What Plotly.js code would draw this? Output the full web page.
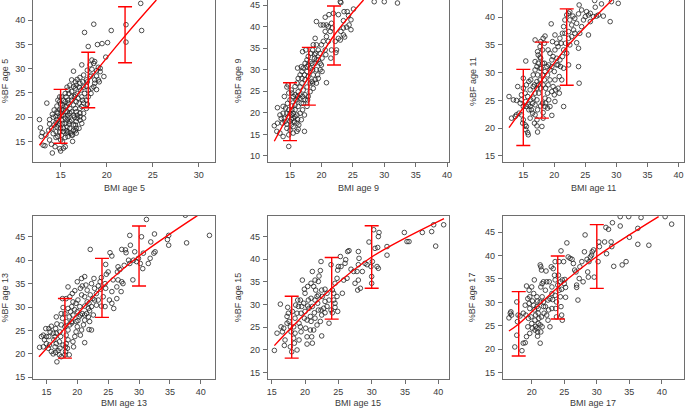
<!DOCTYPE html>
<html>
<head>
<meta charset="utf-8">
<script src="https://cdn.plot.ly/plotly-3.0.1.min.js"></script>
<style>html,body{margin:0;padding:0;background:#fff}#chart{width:685px;height:409px}</style>
</head>
<body>
<div id="chart"></div>
<script>
// ---------------- DATA ----------------
var ages = ["5", "9", "11", "13", "15", "17"];

var bmi5 = [23.7,23.8,22.1,22.1,20.5,18.6,17.6,20.1,19.5,19.0,18.0,19.9,19.7,19.1,18.9,19.2,17.3,16.4,
12.7,12.8,13.0,12.9,13.1,13.3,13.4,13.7,13.8,13.5,13.8,14.0,14.1,14.4,14.2,14.5,14.5,14.2,14.3,14.6,14.7,14.9,14.9,15.0,15.3,15.2,15.5,16.3,
15.7,16.0,16.2,16.6,16.8,17.1,17.5,17.9,18.4,18.2,18.6,18.7,18.4,18.9,19.3,18.3,17.8,18.7,19.1,18.6,
18.0,17.6,17.3,17.8,17.3,17.1,16.8,16.6,16.4,16.1,15.8,15.7,15.5,15.1,15.3,15.7,16.0,16.4,16.7,16.9,
16.6,16.2,15.8,15.5,15.1,14.9,14.6,14.9,14.6,14.9,15.1,15.5,15.8,16.2,16.7,17.0,17.3,17.5,17.1,16.7,
16.2,15.8,15.5,15.2,15.0,14.7,14.5,14.7,15.1,15.5,15.8,16.2,16.5,16.8,17.2,17.0,16.6,16.2,15.8,15.5,
15.2,15.7,16.0,16.4,16.7,17.1,17.5,17.4,17.0,16.6,16.2,15.8,15.5,15.1,14.9,14.5,14.7,15.3,15.7,16.0,
16.4,16.7,17.1,17.5,17.8,17.9,18.0,18.3,18.4,18.7,18.9,19.3,17.8,17.5,17.9,18.2,17.4,17.1,16.7,16.4,
15.9,15.6,15.3,15.0,15.3,15.7,16.0,16.5,16.8,14.6,14.3,14.0,13.8,14.1,14.9,15.3,15.6,15.9,16.3,16.6,15.0];
var bf5 = [43.5,37.9,39.1,35.5,37.9,39.2,37.5,35.4,35.2,35.0,34.6,32.4,28.4,30.3,25.7,27.3,30.8,29.5,
19.5,17.8,16.8,16.0,14.2,14.1,16.3,17.3,18.6,22.9,15.3,14.4,12.6,13.9,16.6,15.8,18.9,20.0,21.5,22.3,23.5,24.2,13.5,13.0,13.6,14.9,13.9,15.0,
26.2,26.6,27.7,27.3,27.8,28.2,28.7,29.7,29.9,30.8,31.1,31.5,31.8,29.6,29.4,28.7,27.7,27.7,27.7,26.3,
25.6,24.9,24.2,23.5,22.2,20.8,19.8,18.4,17.3,16.7,17.0,18.0,18.7,19.4,20.4,21.1,21.8,22.5,23.2,23.9,
24.6,25.3,25.6,24.9,24.2,23.2,21.1,20.1,18.0,17.0,16.3,15.8,16.0,16.3,16.7,17.7,18.7,19.8,19.4,19.1,
19.4,19.8,19.8,18.7,17.7,18.4,20.1,20.8,21.5,22.2,22.9,23.5,24.2,24.9,25.6,26.2,26.0,24.2,23.5,23.2,
22.5,22.3,20.8,20.4,21.1,21.8,22.9,23.5,22.9,21.8,21.1,20.4,21.1,20.4,21.5,17.0,16.0,17.0,16.7,17.7,
18.4,17.7,20.1,20.8,21.8,22.7,24.2,24.9,26.0,27.0,28.5,30.1,26.4,26.2,27.3,28.4,27.3,27.0,26.6,26.3,
24.9,24.2,23.5,22.7,21.5,19.4,19.1,20.0,20.4,19.5,18.4,17.7,19.5,20.6,18.6,17.7,17.2,18.6,16.3,17.2,15.3];

var bmi9 = [30.0,32.1,28.4,25.1,23.0,22.7,23.6,24.1,24.3,23.5,24.7,24.0,24.4,23.5,23.1,23.5,22.7,23.0,23.7,22.2,
21.6,22.4,22.3,21.5,20.6,20.7,20.1,20.8,21.7,21.4,20.6,20.8,20.3,20.6,19.9,19.2,20.8,21.1,20.3,20.0,
19.2,18.7,19.0,19.5,19.1,19.8,20.0,19.5,19.0,18.5,17.9,18.2,18.6,19.2,19.8,18.7,19.4,19.0,18.5,18.7,
18.2,17.9,17.4,17.1,17.7,17.3,16.3,15.5,14.8,13.9,13.4,12.9,12.5,13.0,13.4,13.0,13.9,14.1,14.5,14.8,
15.0,15.3,15.8,16.1,16.3,16.6,16.9,16.8,16.2,17.0,17.5,17.7,17.4,17.1,17.7,17.9,17.4,16.9,16.6,17.1,
17.7,18.2,16.3,15.8,16.1,16.6,17.0,16.8,16.3,15.8,15.3,14.8,14.5,14.1,14.5,15.0,15.5,16.1,16.6,17.0,
17.3,16.8,16.1,15.5,15.0,14.5,14.2,13.8,13.6,13.9,14.3,14.6,15.0,15.3,15.5,15.8,15.9,15.5,15.2,14.7,
16.2,16.6,17.4,17.8,16.9,17.3,17.7,18.2,17.9,18.3,18.6,18.9,18.9,19.2,19.8,20.1,19.5,19.2,15.3,14.7,
15.8,15.2,15.7,16.2,16.4,15.2,14.8,16.1,21.2,21.9,23.1,24.7,21.6,21.1,18.6];
var bf9 = [45.8,45.5,45.8,44.1,45.8,42.8,43.5,43.5,42.6,41.4,39.3,39.9,40.4,39.7,38.9,38.1,37.3,36.9,37.6,36.6,
34.6,34.6,34.0,32.7,34.6,33.5,32.7,27.0,39.7,38.9,38.9,40.4,40.4,42.2,40.4,41.2,37.7,36.6,36.6,35.8,
35.8,35.8,37.3,34.6,33.8,33.8,31.1,32.3,31.5,31.5,31.1,31.9,30.0,30.0,30.0,28.8,28.8,27.7,27.3,25.7,
24.9,23.8,23.0,22.2,21.5,15.7,16.2,15.3,12.2,14.5,15.3,15.7,17.0,17.6,19.5,21.2,21.5,23.8,26.0,24.6,
23.0,24.6,26.1,26.9,28.0,28.8,29.6,30.7,30.4,34.2,34.6,32.3,31.5,30.4,29.6,28.4,27.7,26.9,26.0,25.3,
26.0,26.9,24.9,24.2,23.0,23.4,23.8,22.2,21.5,21.8,21.6,20.7,19.9,18.7,17.4,18.0,18.7,19.5,19.9,20.7,
19.5,18.4,17.6,16.8,16.0,16.4,18.0,17.6,18.7,19.9,21.1,22.2,19.9,20.7,19.9,20.7,23.0,23.8,25.3,26.5,
23.8,24.2,24.2,23.0,28.0,28.8,30.7,30.4,33.1,33.8,34.6,33.5,32.7,32.3,31.5,29.6,28.0,26.9,19.5,19.1,
19.1,18.5,18.0,18.5,17.2,17.2,14.9,15.7,42.8,43.1,45.6,41.6,40.8,40.0,26.9];

var bmi11 = [12.7,13.4,13.9,14.1,13.1,13.7,13.9,14.3,14.5,14.7,14.7,15.0,15.4,15.0,15.3,15.5,15.9,16.1,15.7,15.4,
15.0,14.7,15.0,15.3,14.9,15.4,15.7,15.8,15.5,16.1,16.3,16.1,16.5,16.6,16.9,16.6,16.2,16.6,16.9,17.2,
16.9,17.4,16.9,17.3,17.7,17.8,18.2,18.5,18.4,18.1,17.8,18.1,17.7,17.3,17.7,17.4,17.2,17.5,17.2,16.9,
17.3,16.9,17.2,16.8,17.2,17.3,18.2,18.5,18.1,18.5,18.9,18.6,19.0,19.3,18.9,19.3,19.6,19.1,19.6,19.3,
19.0,19.5,20.1,20.4,20.6,21.1,20.9,21.3,21.5,21.7,22.0,22.3,22.5,22.5,22.8,23.1,23.3,23.6,23.9,24.0,
24.1,24.4,24.7,25.0,25.5,25.8,25.5,26.3,26.6,26.8,27.1,27.9,27.6,29.0,29.2,30.3,26.5,23.6,23.9,23.9,
24.0,22.3,22.0,22.5,22.8,22.3,21.8,21.5,21.3,21.5,21.2,20.8,20.4,20.0,20.1,19.8,20.2,20.6,20.8,20.0,
19.6,20.1,19.3,19.6,18.9,18.2,18.0,21.5,21.0,19.1,18.6,17.8,16.5,15.9,15.5,16.2,15.8,16.8,17.2,17.8,
18.2,18.4,18.1,18.5,18.8,18.4,17.9,17.4,17.7,19.7,20.1,19.8,20.4,20.6,20.9,22.3,21.7,23.0,23.3,24.4,
25.2,25.8];
var bf11 = [25.7,25.1,25.0,27.5,21.8,22.1,22.4,22.7,24.5,25.1,26.0,29.0,32.1,27.2,26.3,27.8,28.4,26.9,25.7,24.8,
23.9,22.4,21.5,20.6,20.9,19.7,19.2,18.8,20.3,21.8,23.3,23.9,24.5,25.4,26.3,27.5,28.7,29.6,30.5,31.1,
32.0,33.2,35.9,33.8,34.7,35.6,36.2,36.6,35.3,34.1,32.6,31.7,30.8,29.6,28.7,27.8,27.2,26.3,25.1,24.2,
23.3,22.4,21.5,20.9,20.4,19.3,22.8,23.9,24.5,25.4,26.3,27.2,27.8,28.7,29.6,30.5,31.1,31.4,32.3,33.5,
34.1,38.8,34.1,35.3,34.7,35.3,36.2,37.1,38.3,39.5,40.4,40.7,41.0,39.5,38.6,37.7,37.1,38.9,40.6,42.2,
37.1,38.3,39.5,40.1,40.4,39.2,36.8,40.1,41.8,40.2,40.4,40.2,42.4,39.2,42.8,42.5,43.0,35.4,34.4,31.1,
28.1,31.4,33.5,35.0,36.5,36.2,35.3,34.1,32.9,30.8,28.7,29.3,31.4,30.2,28.7,27.5,26.9,27.2,26.3,26.0,
26.6,24.8,23.9,22.3,23.6,21.8,20.3,23.9,31.1,25.1,24.5,24.0,22.7,23.3,23.9,25.1,24.2,27.8,28.4,27.2,
27.8,28.7,29.6,30.2,31.1,31.7,30.8,31.7,32.8,35.6,36.8,32.9,32.6,31.4,32.3,37.4,37.1,40.2,39.8,41.3,
41.0,40.7];

var bmi13 = [13.9,14.2,14.5,14.7,15.0,15.3,15.4,15.6,15.4,15.8,16.1,16.2,15.8,16.1,16.5,16.4,16.6,16.4,16.6,16.5,
16.7,16.6,16.7,17.1,17.2,17.1,17.3,17.2,17.4,17.6,17.4,17.7,17.6,18.0,18.1,18.4,18.2,18.5,18.2,18.5,
18.8,18.7,18.9,18.5,19.1,19.3,18.8,18.5,19.2,19.4,19.3,19.6,19.8,20.0,20.1,20.3,20.0,20.4,20.1,20.7,
20.5,20.8,20.0,20.7,21.2,21.4,21.6,21.2,21.6,21.2,21.5,21.2,21.0,20.7,20.5,21.2,21.8,22.0,22.3,21.9,
22.5,22.1,22.3,22.1,22.7,22.8,23.1,22.8,23.1,22.6,22.0,21.9,22.3,23.4,23.7,23.9,23.8,23.4,23.9,24.5,
24.2,24.6,24.5,24.7,24.6,25.0,25.3,25.6,25.8,25.6,25.2,25.6,25.9,26.4,26.4,26.6,26.5,26.9,26.6,27.2,
27.1,27.4,27.6,27.2,27.8,27.9,28.3,28.5,28.6,28.5,29.0,29.1,29.3,29.6,29.9,30.2,30.4,30.6,30.7,31.2,
31.5,31.8,31.9,32.5,32.4,32.6,34.6,34.8,34.8,37.7,37.5,41.4,18.1,18.7,17.4,16.9,17.7,18.0,18.2,19.1,
19.3,19.6,19.8,18.0,19.6,20.5,20.8,21.2,21.8,15.5,15.0,14.5,14.9,18.2,19.1,19.8];
var bf13 = [21.4,23.7,24.0,23.0,22.2,21.2,23.7,24.7,25.4,25.9,24.4,23.0,20.5,20.0,20.3,21.5,22.2,23.7,24.4,25.4,
26.4,27.9,18.3,19.8,21.2,22.6,23.7,24.7,26.2,27.6,28.6,29.9,31.8,19.8,20.5,21.2,22.2,23.0,24.0,25.1,
26.2,27.9,29.0,29.7,30.1,31.1,32.2,34.3,32.9,21.5,22.6,23.7,24.7,25.8,27.1,27.9,29.0,30.1,31.5,32.6,
34.0,34.5,35.4,36.1,36.5,34.7,33.6,32.2,31.1,30.2,28.6,27.2,26.2,25.1,24.0,22.4,27.9,29.2,30.1,30.8,
31.8,32.6,35.0,42.3,36.1,34.0,32.9,31.5,30.4,28.3,26.9,25.2,25.1,34.5,35.4,36.3,33.8,31.5,30.2,30.1,
32.2,34.0,35.0,37.0,39.1,37.5,41.6,40.9,35.8,33.3,31.5,30.8,29.7,31.8,34.3,35.8,37.5,38.0,38.6,35.4,
33.3,35.0,38.9,42.3,42.2,41.6,40.0,45.3,43.2,39.3,35.8,40.0,41.8,39.7,40.4,39.3,45.0,38.2,41.5,48.7,
39.3,40.4,43.9,45.6,41.5,41.8,44.4,45.3,43.2,43.7,49.6,45.3,21.5,19.8,19.4,20.7,21.9,25.8,26.9,26.9,
28.3,29.4,30.8,28.6,33.5,28.3,28.6,28.3,29.7,21.9,23.7,21.5,25.4,31.8,26.6,26.9];

var bmi15 = [15.4,15.8,16.3,16.4,16.8,16.6,16.9,17.0,17.3,17.4,17.5,17.6,17.3,17.8,17.8,18.0,18.1,18.3,18.5,18.4,
18.8,18.9,18.8,19.1,19.3,19.4,19.1,19.5,19.6,19.9,20.0,19.8,20.0,19.9,20.1,20.3,20.3,20.5,20.8,20.9,
20.8,21.0,21.1,21.3,21.4,21.1,21.3,21.5,21.6,21.8,21.5,21.9,22.0,22.1,22.3,22.4,22.5,22.6,22.4,22.5,
22.3,22.5,22.8,23.0,23.3,23.3,23.0,23.6,23.6,23.9,23.9,24.1,24.3,24.3,24.5,24.5,24.8,24.9,25.0,25.3,
24.8,24.9,25.4,25.6,25.8,26.0,26.1,26.3,26.4,26.6,26.9,27.3,27.5,27.8,28.0,28.0,27.9,28.3,28.0,28.1,
28.6,29.0,29.3,29.6,29.9,30.0,30.0,30.1,30.3,30.5,30.8,31.0,31.0,31.1,30.9,32.3,32.3,34.9,35.3,35.6,
37.6,39.0,39.3,39.6,40.8,20.4,20.6,21.1,20.9,22.0,21.5,21.8,20.3,19.4,19.0,18.5,18.3,17.9,18.6,19.3,
20.4,20.9,22.0,23.0,24.1,24.5];
var bf15 = [19.9,23.7,30.1,25.1,24.8,24.0,21.0,22.2,27.4,29.4,28.1,26.3,25.9,25.1,20.7,19.6,28.5,22.6,23.7,21.5,
20.0,31.0,28.1,25.9,25.1,24.0,22.2,29.6,35.4,33.4,32.5,30.3,28.5,27.0,24.8,22.9,21.3,31.0,27.4,26.3,
24.4,22.9,21.5,24.4,28.2,37.3,34.0,35.4,33.2,31.8,31.0,30.3,35.1,36.3,37.5,39.5,33.2,31.8,28.8,27.7,
26.3,23.1,29.2,28.2,29.6,32.5,33.4,31.0,25.9,28.8,38.8,33.2,32.5,31.0,30.3,34.7,35.8,37.6,38.4,40.6,
31.8,28.5,38.4,32.5,35.4,39.1,39.9,35.8,41.7,41.9,37.8,37.3,34.7,37.3,35.4,41.7,33.2,33.6,38.8,40.2,
37.3,39.1,38.8,43.8,38.4,36.2,34.7,39.5,46.5,42.4,38.4,38.0,45.0,45.9,42.6,42.8,40.9,45.9,43.9,43.9,
45.9,46.1,47.6,42.9,47.6,29.7,29.2,29.6,31.4,28.8,27.0,25.5,26.6,28.1,29.6,27.0,25.1,24.0,29.9,31.0,
34.0,34.7,32.1,30.7,28.2,29.4];

var bmi17 = [16.5,16.8,16.9,16.7,17.4,17.7,17.7,17.9,17.8,18.2,18.5,18.7,19.0,18.7,19.0,19.1,19.2,19.4,19.2,19.6,
19.7,19.6,19.7,19.9,20.0,20.1,20.1,20.3,20.4,20.4,20.5,20.6,20.8,20.9,20.9,21.0,21.1,21.3,21.3,21.3,
21.4,21.5,21.4,21.6,21.8,21.6,21.8,21.6,21.9,22.1,22.2,22.3,22.5,22.6,22.5,22.7,22.8,23.0,23.1,23.2,
23.1,23.3,23.5,23.6,23.6,23.7,23.8,24.0,24.1,24.2,24.4,24.4,24.5,24.5,24.6,24.7,24.7,24.9,25.0,25.1,
25.2,25.2,25.4,25.6,25.9,26.2,26.4,26.6,26.8,26.9,26.9,27.1,27.3,27.4,27.7,27.9,28.1,28.2,28.5,28.6,
28.7,28.8,29.0,29.2,29.3,29.5,29.6,30.2,30.3,30.4,31.2,31.4,31.5,31.8,32.2,32.3,32.4,32.6,33.6,33.9,
34.5,35.0,36.3,36.3,36.8,38.0,40.5,41.5,34.9,33.6,20.6,20.8,20.3,20.9,21.3,21.8,22.1,22.3,21.5,21.0,
20.5,21.0,20.8,21.4,19.7,19.5,19.4,20.0,23.1,22.8,23.8,24.2,24.6,23.6];
var bf17 = [26.7,28.0,27.3,27.7,20.5,23.0,30.1,27.3,25.9,27.1,19.7,21.3,21.4,27.7,29.4,27.3,22.7,24.8,33.5,29.8,
31.2,32.6,28.7,26.9,25.5,24.5,30.3,31.9,28.4,34.8,26.2,24.9,31.2,23.7,22.8,28.7,26.6,25.2,21.3,38.0,
37.6,36.9,33.3,34.0,34.4,31.2,29.1,24.8,27.7,32.6,36.7,34.4,30.5,28.4,26.2,34.4,24.8,37.6,31.9,30.6,
28.7,37.2,35.8,38.7,31.5,28.7,26.9,33.7,35.8,38.7,31.2,34.4,41.0,29.1,27.3,26.2,34.8,38.7,34.0,34.9,
33.2,31.1,42.7,39.7,39.4,39.2,38.3,36.9,36.5,33.7,33.2,30.5,35.1,37.6,38.7,34.4,40.8,44.4,39.2,36.5,
35.4,38.7,39.7,40.1,40.8,41.2,35.4,38.7,42.9,41.9,42.9,46.0,40.4,45.6,42.9,41.9,47.0,37.7,46.3,38.0,
38.7,43.9,45.8,42.4,48.1,42.2,48.3,46.7,48.3,48.3,27.3,29.1,29.4,30.3,30.1,30.1,29.1,27.3,26.9,27.7,
24.1,25.5,24.5,23.7,23.4,26.6,30.8,33.3,33.3,30.8,30.1,32.6,32.8,34.8];

// fitted curves
var fitX5 = [12.7, 15, 18, 22, 25.4], fitY5 = [14.2, 20.1, 27.5, 36.8, 44.2];
var fitX9 = [12.5, 15, 18, 22, 26.7], fitY9 = [13.4, 20.3, 28.5, 37.95, 46.2];
var fitX11 = [12.7, 15, 18, 22, 29.3], fitY11 = [20.1, 23.7, 28.65, 34.6, 43.1];
var fitX13 = [13.8, 18, 24, 30, 39.45], fitY13 = [19.4, 25.5, 34.1, 40.9, 49.5];
var fitX15 = [15.4, 18, 24, 30, 40.85], fitY15 = [20.96, 25.0, 33.6, 40.5, 48.97];
var fitX17 = [16.5, 18, 24, 30, 39.5], fitY17 = [23.9, 25.4, 33.2, 39.8, 48.3];

// interval bars: x position, upper end, lower end
var barX5 = [15, 18, 22], barHi5 = [25.74, 33.4, 42.8], barLo5 = [14.6, 21.94, 31.24];
var barX9 = [15, 18, 22], barHi9 = [27.0, 35.2, 44.8], barLo9 = [13.55, 21.8, 31.1];
var barX11 = [15, 18, 22], barHi11 = [30.6, 35.5, 41.5], barLo11 = [16.86, 21.8, 27.74];
var barX13 = [18, 24, 30], barHi13 = [31.84, 40.4, 47.3], barLo13 = [19.1, 27.8, 34.5];
var barX15 = [18, 24, 30], barHi15 = [31.85, 40.4, 47.4], barLo15 = [18.2, 26.8, 33.6];
var barX17 = [18, 24, 30], barHi17 = [32.3, 39.9, 46.6], barLo17 = [18.56, 26.45, 33.0];

// axis ranges and ticks
var xRanges = [[12.0, 31.77], [11.45, 40.3], [11.68, 40.9], [12.83, 42.3], [14.4, 41.6], [15.54, 43.4]];
var yRanges = [[10.7, 44.2], [8.54, 46.2], [13.86, 43.1], [14.64, 49.5], [13.6, 49.6], [13.66, 48.5]];
var xTicks = [[15,20,25,30], [15,20,25,30,35,40], [15,20,25,30,35,40], [15,20,25,30,35,40], [15,20,25,30,35,40], [20,25,30,35,40]];
var yTicks = [[15,20,25,30,35,40], [10,15,20,25,30,35,40,45], [15,20,25,30,35,40], [15,20,25,30,35,40,45], [15,20,25,30,35,40,45], [15,20,25,30,35,40,45]];

// ---------------- LAYOUT / DRAW ----------------
var W = 685, H = 409;
var colL = [33, 267.7, 502.7], colR = [215, 449, 684];
var rowT = [0, 215.7], rowB = [162.2, 379];
var xTitleY = [188, 402.5];
var yTitleX = [5.2, 238, 472.8];

var panels = [
  {x: bmi5, y: bf5, fx: fitX5, fy: fitY5, bx: barX5, bh: barHi5, bl: barLo5},
  {x: bmi9, y: bf9, fx: fitX9, fy: fitY9, bx: barX9, bh: barHi9, bl: barLo9},
  {x: bmi11, y: bf11, fx: fitX11, fy: fitY11, bx: barX11, bh: barHi11, bl: barLo11},
  {x: bmi13, y: bf13, fx: fitX13, fy: fitY13, bx: barX13, bh: barHi13, bl: barLo13},
  {x: bmi15, y: bf15, fx: fitX15, fy: fitY15, bx: barX15, bh: barHi15, bl: barLo15},
  {x: bmi17, y: bf17, fx: fitX17, fy: fitY17, bx: barX17, bh: barHi17, bl: barLo17}
];

var FONT = {family: 'Liberation Sans, Arial, Helvetica, sans-serif', size: 9, color: '#3a3a3a'};
var FRAME = '#6e6e6e';
var traces = [], annotations = [];
var layout = {
  width: W, height: H, margin: {l: 0, r: 0, t: 0, b: 0},
  paper_bgcolor: '#fff', plot_bgcolor: '#fff', showlegend: false, font: FONT
};

panels.forEach(function (p, i) {
  var r = Math.floor(i / 3), c = i % 3;
  var sfx = i === 0 ? '' : String(i + 1);
  var xa = 'x' + sfx, ya = 'y' + sfx;
  var axCommon = {
    showgrid: false, zeroline: false, showline: true, mirror: true,
    linecolor: FRAME, linewidth: 1, ticks: 'outside', ticklen: 4, tickwidth: 1,
    tickcolor: FRAME, tickfont: FONT, tickmode: 'array', fixedrange: true
  };
  layout['xaxis' + sfx] = Object.assign({}, axCommon, {
    domain: [colL[c] / W, colR[c] / W], range: xRanges[i], tickvals: xTicks[i],
    anchor: ya
  });
  layout['yaxis' + sfx] = Object.assign({}, axCommon, {
    domain: [1 - rowB[r] / H, 1 - rowT[r] / H], range: yRanges[i], tickvals: yTicks[i],
    anchor: xa, ticklabelstandoff: 1
  });

  traces.push({
    type: 'scatter', mode: 'markers', x: p.x, y: p.y, xaxis: xa, yaxis: ya,
    marker: {symbol: 'circle-open', size: 4.6, color: '#222', line: {width: 0.8, color: '#222'}},
    hoverinfo: 'skip'
  });
  traces.push({
    type: 'scatter', mode: 'lines', x: p.fx, y: p.fy, xaxis: xa, yaxis: ya,
    line: {color: '#ff0000', width: 1.4, shape: 'spline', smoothing: 1}, hoverinfo: 'skip'
  });
  var mid = p.bh.map(function (h, k) { return (h + p.bl[k]) / 2; });
  traces.push({
    type: 'scatter', mode: 'markers', x: p.bx, y: mid, xaxis: xa, yaxis: ya,
    marker: {size: 1, color: 'rgba(0,0,0,0)'},
    error_y: {
      type: 'data', symmetric: false,
      array: p.bh.map(function (h, k) { return h - mid[k]; }),
      arrayminus: p.bl.map(function (l, k) { return mid[k] - l; }),
      color: '#ff0000', thickness: 1.4, width: 7
    },
    hoverinfo: 'skip'
  });

  var cx = (colL[c] + colR[c]) / 2, cy = (rowT[r] + rowB[r]) / 2;
  annotations.push({
    xref: 'paper', yref: 'paper', x: cx / W, y: 1 - xTitleY[r] / H,
    text: 'BMI age ' + ages[i], showarrow: false, xanchor: 'center', yanchor: 'middle', font: FONT
  });
  annotations.push({
    xref: 'paper', yref: 'paper', x: yTitleX[c] / W, y: 1 - cy / H,
    text: '%BF age ' + ages[i], showarrow: false, textangle: -90,
    xanchor: 'center', yanchor: 'middle', font: FONT
  });
});
layout.annotations = annotations;

Plotly.newPlot('chart', traces, layout, {staticPlot: true, displayModeBar: false});
</script>
</body>
</html>
